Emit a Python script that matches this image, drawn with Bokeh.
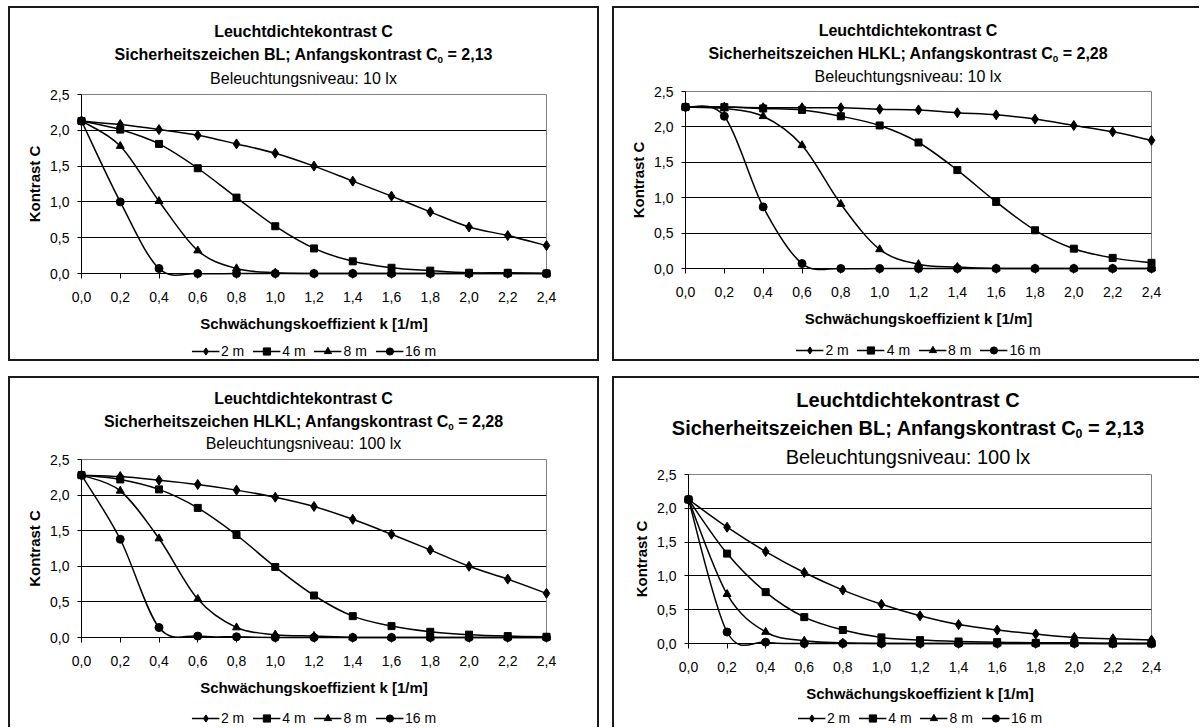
from bokeh.plotting import figure
from bokeh.models import Range1d, FixedTicker, Legend, LegendItem, ColumnDataSource, Div
from bokeh.layouts import row, column
from bokeh.embed import file_html
from bokeh.resources import INLINE

# ---------------- data ----------------
k_values = [0.0, 0.2, 0.4, 0.6, 0.8, 1.0, 1.2, 1.4, 1.6, 1.8, 2.0, 2.2, 2.4]
x_ticks = [0.0, 0.2, 0.4, 0.6, 0.8, 1.0, 1.2, 1.4, 1.6, 1.8, 2.0, 2.2, 2.4]
x_tick_labels = ["0,0", "0,2", "0,4", "0,6", "0,8", "1,0", "1,2", "1,4", "1,6", "1,8", "2,0", "2,2", "2,4"]
y_ticks = [0.0, 0.5, 1.0, 1.5, 2.0, 2.5]
y_tick_labels = ["0,0", "0,5", "1,0", "1,5", "2,0", "2,5"]
grid_ticks = [0.5, 1.0, 1.5, 2.0]
series_labels = ["2 m", "4 m", "8 m", "16 m"]
series_markers = ["diamond", "square", "triangle", "circle"]

# Sicherheitszeichen BL, 10 lx
bl10_2m = [2.13, 2.08, 2.01, 1.93, 1.81, 1.68, 1.50, 1.29, 1.08, 0.86, 0.65, 0.53, 0.39]
bl10_4m = [2.13, 2.01, 1.81, 1.47, 1.06, 0.66, 0.35, 0.17, 0.08, 0.04, 0.01, 0.01, 0.00]
bl10_8m = [2.13, 1.78, 1.01, 0.32, 0.07, 0.01, 0.00, 0.00, 0.00, 0.00, 0.00, 0.00, 0.00]
bl10_16m = [2.13, 1.00, 0.07, 0.00, 0.00, 0.00, 0.00, 0.00, 0.00, 0.00, 0.00, 0.00, 0.00]

# Sicherheitszeichen HLKL, 10 lx
hl10_2m = [2.28, 2.28, 2.27, 2.27, 2.27, 2.25, 2.24, 2.20, 2.17, 2.11, 2.02, 1.93, 1.81]
hl10_4m = [2.28, 2.28, 2.26, 2.24, 2.15, 2.02, 1.78, 1.39, 0.94, 0.54, 0.28, 0.15, 0.08]
hl10_8m = [2.28, 2.26, 2.15, 1.74, 0.91, 0.27, 0.06, 0.02, 0.00, 0.00, 0.00, 0.00, 0.00]
hl10_16m = [2.28, 2.15, 0.87, 0.07, 0.00, 0.00, 0.00, 0.00, 0.00, 0.00, 0.00, 0.00, 0.00]

# Sicherheitszeichen HLKL, 100 lx
hl100_2m = [2.28, 2.26, 2.21, 2.15, 2.07, 1.97, 1.84, 1.66, 1.45, 1.23, 1.00, 0.82, 0.62]
hl100_4m = [2.28, 2.22, 2.08, 1.82, 1.44, 0.99, 0.59, 0.30, 0.16, 0.08, 0.04, 0.02, 0.01]
hl100_8m = [2.28, 2.06, 1.39, 0.54, 0.14, 0.04, 0.02, 0.00, 0.00, 0.00, 0.00, 0.00, 0.00]
hl100_16m = [2.28, 1.38, 0.14, 0.02, 0.01, 0.00, 0.00, 0.00, 0.00, 0.00, 0.00, 0.00, 0.00]

# Sicherheitszeichen BL, 100 lx
bl100_2m = [2.13, 1.72, 1.36, 1.05, 0.79, 0.58, 0.41, 0.28, 0.20, 0.14, 0.09, 0.07, 0.05]
bl100_4m = [2.13, 1.33, 0.76, 0.39, 0.20, 0.09, 0.05, 0.03, 0.02, 0.01, 0.01, 0.00, 0.00]
bl100_8m = [2.13, 0.73, 0.17, 0.04, 0.01, 0.00, 0.00, 0.00, 0.00, 0.00, 0.00, 0.00, 0.00]
bl100_16m = [2.13, 0.17, 0.02, 0.00, 0.00, 0.00, 0.00, 0.00, 0.00, 0.00, 0.00, 0.00, 0.00]

title_main = "Leuchtdichtekontrast C"
sub_bl = "Sicherheitszeichen BL; Anfangskontrast C<sub>0</sub> = 2,13"
sub_hlkl = "Sicherheitszeichen HLKL; Anfangskontrast C<sub>0</sub> = 2,28"
level_10 = "Beleuchtungsniveau: 10 lx"
level_100 = "Beleuchtungsniveau: 100 lx"
x_title = "Schwächungskoeffizient k [1/m]"
y_title = "Kontrast C"

FONT = "Liberation Sans"
BORDER = "#1a1a1a"
MARKER_SIZE = {"diamond": 10, "square": 7, "triangle": 8, "circle": 8}


def bezier_source(xs, ys):
    """Smoothed (Excel-like) line: cubic Bezier segments between the data points."""
    px = [xs[0]] + list(xs) + [xs[-1]]
    py = [ys[0]] + list(ys) + [ys[-1]]
    d = dict(x0=[], y0=[], x1=[], y1=[], cx0=[], cy0=[], cx1=[], cy1=[])
    for i in range(len(xs) - 1):
        a, b, c, e = i, i + 1, i + 2, i + 3
        d["x0"].append(px[b]); d["y0"].append(py[b])
        d["x1"].append(px[c]); d["y1"].append(py[c])
        d["cx0"].append(px[b] + (px[c] - px[a]) / 6.0)
        d["cy0"].append(py[b] + (py[c] - py[a]) / 6.0)
        d["cx1"].append(px[c] - (px[e] - px[b]) / 6.0)
        d["cy1"].append(py[c] - (py[e] - py[b]) / 6.0)
    return ColumnDataSource(d)


def title_div(lines, lay):
    l1, l2, l3 = lines
    fs, L, pad, dh, w = lay["fs"], lay["lh"], lay["pad"], lay["dh"], lay["w"]
    sub = '<sub style="font-size:0.62em; line-height:0; vertical-align:-0.28em;">'
    l2 = l2.replace("<sub>", sub)
    last_h = dh - pad - 2 * L
    line = "white-space:nowrap; overflow:visible; text-align:center;"
    html = (f'<div style="width:{w}px; height:{dh}px; box-sizing:border-box; '
            f'padding-top:{pad}px; padding-left:{lay["shift"]}px; overflow:visible; '
            f'font-family:\'{FONT}\', Arial, sans-serif; font-size:{fs}px; color:#000;">'
            f'<div style="{line} font-weight:bold; height:{L}px; line-height:{L}px;">{l1}</div>'
            f'<div style="{line} font-weight:bold; height:{L}px; line-height:{L}px;">{l2}</div>'
            f'<div style="{line} font-weight:normal; height:{last_h}px; line-height:{L}px;">{l3}</div>'
            f'</div>')
    return Div(text=html, width=w, height=dh, margin=0, styles={"overflow": "visible"})


def make_panel(series, line2, line3, lay):
    w = lay["w"]
    p = figure(width=w, height=lay["fh"], output_backend="svg", toolbar_location=None,
               x_range=Range1d(0, 2.4), y_range=Range1d(0, 2.5),
               min_border_left=lay["l"], min_border_right=lay["r"],
               min_border_top=10, min_border_bottom=66)
    p.background_fill_color = None
    p.border_fill_color = None
    p.outline_line_color = "#808080"
    p.outline_line_width = 1

    p.xaxis.ticker = FixedTicker(ticks=x_ticks)
    p.xaxis.major_label_overrides = dict(zip(x_ticks, x_tick_labels))
    p.yaxis.ticker = FixedTicker(ticks=y_ticks)
    p.yaxis.major_label_overrides = dict(zip(y_ticks, y_tick_labels))
    for ax in (p.xaxis, p.yaxis):
        ax.axis_line_color = "black"
        ax.axis_line_width = 1
        ax.major_tick_line_color = "black"
        ax.major_tick_in = 0
        ax.minor_tick_line_color = None
        ax.major_label_text_font = FONT
        ax.major_label_text_font_size = "14px"
        ax.major_label_text_color = "black"
        ax.axis_label_text_font = FONT
        ax.axis_label_text_font_size = "15px"
        ax.axis_label_text_font_style = "bold"
        ax.axis_label_text_color = "black"
    p.xaxis.major_tick_out = 5
    p.xaxis.major_label_standoff = 13
    p.xaxis.axis_label = x_title
    p.xaxis.axis_label_standoff = 10
    p.yaxis.major_tick_out = 4
    p.yaxis.major_label_standoff = 8
    p.yaxis.axis_label = y_title
    p.yaxis.axis_label_standoff = 4

    p.xgrid.visible = False
    p.ygrid.ticker = FixedTicker(ticks=grid_ticks)
    p.ygrid.grid_line_color = "black"
    p.ygrid.grid_line_width = 1

    # legend strip (own small figure so that it is centred on the whole panel)
    lf = figure(width=w, height=lay["lgh"], output_backend="svg", toolbar_location=None,
                x_axis_type=None, y_axis_type=None, min_border=0,
                x_range=Range1d(0, 2.4), y_range=Range1d(0, 2.5))
    lf.outline_line_color = None
    lf.background_fill_color = None
    lf.border_fill_color = None

    items = []
    for vals, lab, mk in zip(series, series_labels, series_markers):
        p.bezier(x0="x0", y0="y0", x1="x1", y1="y1", cx0="cx0", cy0="cy0",
                 cx1="cx1", cy1="cy1", source=bezier_source(k_values, vals),
                 line_color="black", line_width=1.5, level="overlay")
        p.scatter(k_values, vals, marker=mk, size=MARKER_SIZE[mk], fill_color="black",
                  line_color="black", level="overlay")
        lr = lf.line(k_values, vals, line_color="black", line_width=1.5, visible=False)
        ls = lf.scatter(k_values, vals, marker=mk, fill_color="black", line_color="black",
                        visible=False)
        items.append(LegendItem(label=lab, renderers=[lr, ls]))

    legend = Legend(items=items, orientation="horizontal", location="bottom",
                    border_line_color=None, background_fill_color=None,
                    background_fill_alpha=0, glyph_width=28, glyph_height=18,
                    label_text_font=FONT, label_text_font_size="14px",
                    label_text_color="black",
                    label_standoff=2, spacing=8, padding=0, margin=lay["lm"])
    lf.add_layout(legend)

    head = title_div([title_main, line2, line3], lay)
    return column(head, p, lf, spacing=0, width=w, height=lay["h"],
                  styles={"box-shadow": lay["shadow"], "background-color": "white"})


# layout in page pixels: dh/fh/lgh = heights of title block / plot / legend strip,
# pad + lh = title line placement, lm = legend distance from the strip bottom
lay1 = dict(w=591, h=355, l=73, r=53, dh=78, fh=255, lgh=22, lm=1,
            fs=16, lh=23.3, pad=14.0, shift=0,
            shadow=f"inset 2px 2px 0 0 {BORDER}, inset -2px -2px 0 0 {BORDER}")
lay2 = dict(w=587, h=355, l=73, r=48, dh=75, fh=253, lgh=27, lm=2,
            fs=16, lh=23.35, pad=12.8, shift=5,
            shadow=f"inset 2px 2px 0 0 {BORDER}, inset 0 -2px 0 0 {BORDER}")
lay3 = dict(w=591, h=351, l=73, r=53, dh=73, fh=254, lgh=24, lm=0,
            fs=16, lh=22.5, pad=12.3, shift=0,
            shadow=f"inset 2px 2px 0 0 {BORDER}, inset -2px 0 0 0 {BORDER}")
lay4 = dict(w=587, h=351, l=76, r=48, dh=88, fh=245, lgh=18, lm=0,
            fs=20, lh=28.35, pad=10.0, shift=5,
            shadow=f"inset 2px 2px 0 0 {BORDER}")

panel1 = make_panel([bl10_2m, bl10_4m, bl10_8m, bl10_16m], sub_bl, level_10, lay1)
panel2 = make_panel([hl10_2m, hl10_4m, hl10_8m, hl10_16m], sub_hlkl, level_10, lay2)
panel3 = make_panel([hl100_2m, hl100_4m, hl100_8m, hl100_16m], sub_hlkl, level_100, lay3)
panel4 = make_panel([bl100_2m, bl100_4m, bl100_8m, bl100_16m], sub_bl, level_100, lay4)

layout = column(row(panel1, panel2, spacing=13), row(panel3, panel4, spacing=13), spacing=15)
layout.margin = (6, 0, 0, 8)

open("out.html", "w").write(file_html(layout, INLINE, title="Leuchtdichtekontrast C"))
